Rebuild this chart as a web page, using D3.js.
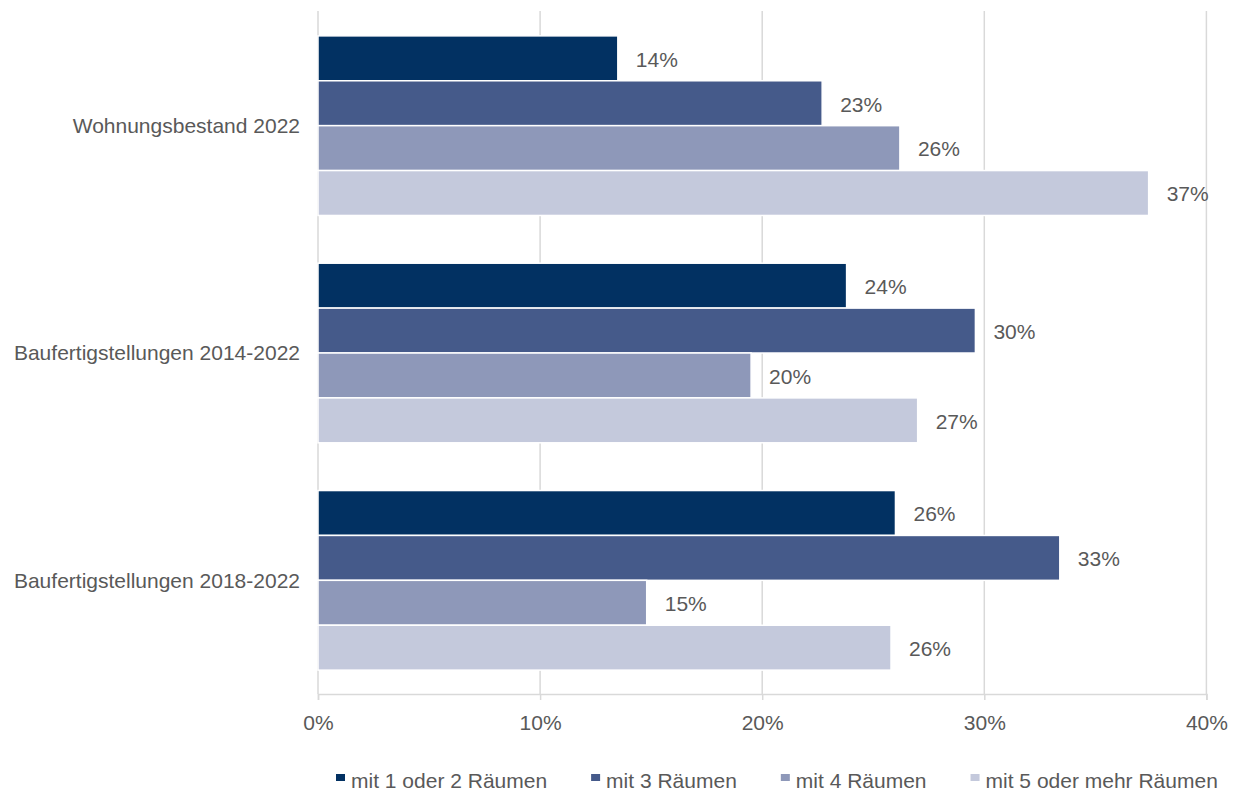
<!DOCTYPE html>
<html>
<head>
<meta charset="utf-8">
<script src="https://cdn.jsdelivr.net/npm/d3@7"></script>
<style>
    body { margin: 0; background: #fff; }
    text { font-family: "Liberation Sans", Arial, sans-serif; fill: #595959; }
</style>
</head>
<body>
<div id="chart"></div>
<script>
// data
const categories = ["Wohnungsbestand 2022", "Baufertigstellungen 2014-2022", "Baufertigstellungen 2018-2022"];
const seriesNames = ["mit 1 oder 2 Räumen", "mit 3 Räumen", "mit 4 Räumen", "mit 5 oder mehr Räumen"];
const rooms12 = [13.5, 23.8, 26.0];
const rooms3 = [22.7, 29.6, 33.4];
const rooms4 = [26.2, 19.5, 14.8];
const rooms5 = [37.4, 27.0, 25.8];
const xTicks = [0, 10, 20, 30, 40];

const seriesValues = [rooms12, rooms3, rooms4, rooms5];
const colors = ["#023162", "#455a8a", "#8e98b9", "#c4c9dc"];

//set dimensions
const width = 1233,
    height = 791,
    margin = { top: 12, right: 27, bottom: 97, left: 318 };

const fontSize = "21px";

// create svg
const svg = d3.select("#chart")
    .append("svg")
    .attr("width", width)
    .attr("height", height);

// scales
const xScale = d3.scaleLinear()
    .domain([0, 40])
    .range([margin.left, margin.left + 888.4]);

const yScale = d3.scaleBand()
    .domain(categories)
    .range([margin.top, height - margin.bottom])
    .paddingInner(0.21)
    .paddingOuter(0.105);

const ySub = d3.scaleBand()
    .domain(d3.range(seriesNames.length))
    .range([0, yScale.bandwidth()]);

const plotBottom = height - margin.bottom;

// gridlines
svg.append("g")
    .selectAll("line")
    .data(xTicks)
    .enter()
    .append("line")
    .attr("x1", d => xScale(d))
    .attr("x2", d => xScale(d))
    .attr("y1", 11)
    .attr("y2", plotBottom)
    .attr("stroke", "#d9d9d9")
    .attr("stroke-width", 1.5);

// x axis
const xAxis = d3.axisBottom(xScale)
    .tickValues(xTicks)
    .tickSize(6)
    .tickPadding(15)
    .tickFormat(d => d + "%");

const xAxisG = svg.append("g")
    .attr("transform", "translate(0," + plotBottom + ")")
    .call(xAxis);
xAxisG.select(".domain").attr("stroke", "#d9d9d9").attr("stroke-width", 1.5);
xAxisG.selectAll(".tick line").attr("stroke", "#d9d9d9").attr("stroke-width", 1.5);
xAxisG.selectAll(".tick text")
    .style("font-size", fontSize)
    .style("font-family", "Liberation Sans, Arial, sans-serif")
    .attr("fill", "#595959");

// category labels
svg.append("g")
    .selectAll("text")
    .data(categories)
    .enter()
    .append("text")
    .attr("x", 300)
    .attr("y", d => yScale(d) + yScale.bandwidth() / 2)
    .attr("dy", "0.35em")
    .attr("text-anchor", "end")
    .style("font-size", fontSize)
    .text(d => d);

// bars
const groups = svg.append("g")
    .selectAll("g")
    .data(categories)
    .enter()
    .append("g")
    .attr("transform", d => `translate(0,${yScale(d)})`);

groups.each(function(cat, ci) {
    const g = d3.select(this);
    seriesValues.forEach((vals, si) => {
        g.append("rect")
            .attr("x", xScale(0))
            .attr("y", ySub(si))
            .attr("width", xScale(vals[ci]) - xScale(0))
            .attr("height", ySub.bandwidth())
            .attr("fill", colors[si])
            .attr("stroke", "#fff")
            .attr("stroke-width", 1.5);

        g.append("text")
            .attr("x", xScale(vals[ci]) + 18)
            .attr("y", ySub(si) + ySub.bandwidth() / 2 + 1)
            .attr("dy", "0.35em")
            .style("font-size", fontSize)
            .text(Math.round(vals[ci]) + "%");
    });
});

// legend
const legend = svg.append("g")
    .attr("transform", "translate(336,781)");

let lx = 0;
seriesNames.forEach((name, i) => {
    const item = legend.append("g").attr("transform", `translate(${lx},0)`);
    item.append("rect")
        .attr("x", 0)
        .attr("y", -7)
        .attr("width", 9)
        .attr("height", 7)
        .attr("fill", colors[i]);
    const t = item.append("text")
        .attr("x", 15)
        .attr("y", 7)
        .style("font-size", fontSize)
        .text(name);
    lx += 15 + t.node().getComputedTextLength() + 44;
});
</script>
</body>
</html>
